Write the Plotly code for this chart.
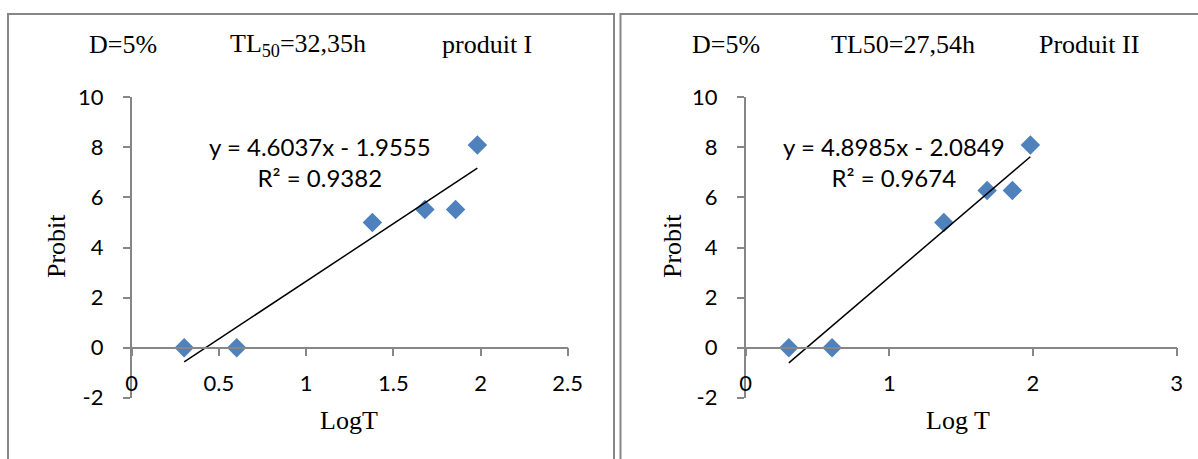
import plotly.graph_objects as go

# Probit analysis, D = 5 %, two products
log_t = [0.301, 0.602, 1.380, 1.681, 1.857, 1.982]
probit_p1 = [0.0, 0.0, 5.00, 5.52, 5.52, 8.09]
probit_p2 = [0.0, 0.0, 5.00, 6.28, 6.28, 8.09]

slope_p1, intercept_p1, r2_p1 = 4.6037, -1.9555, 0.9382
slope_p2, intercept_p2, r2_p2 = 4.8985, -2.0849, 0.9674

x_range_p1 = [0, 2.5]
x_range_p2 = [0, 3]
y_range = [-2, 10]
y_tickvals = [-2, 0, 2, 4, 6, 8, 10]
y_ticktext = ["-2", "0", "2", "4", "6", "8", "10"]

headers_p1 = ["D=5%", "TL<sub>50</sub>=32,35h", "produit I"]
headers_p2 = ["D=5%", "TL50=27,54h", "Produit II"]
xtitle_p1, xtitle_p2, ytitle = "LogT", "Log T", "Probit"

W, H = 1198, 459
BLUE = "#4F81BD"
GREY = "#868686"
SERIF = "Liberation Serif, Times New Roman, serif"
SANS = "Lato, Open Sans, sans-serif"


def px(x):
    return x / W


def py(y):
    return 1 - y / H


fig = go.Figure()

# plot-area pixel geometry (left, right, top, bottom)
areas = [(131.7, 567.7, 97.3, 397.7), (745.6, 1176.6, 97.3, 397.7)]
ydom = [py(areas[0][3]), py(areas[0][2])]


def zero_pos(area):
    top, bot = area[2], area[3]
    frac = (0 - y_range[0]) / (y_range[1] - y_range[0])
    return py(bot) + frac * (py(top) - py(bot))


panels = [
    (log_t, probit_p1, slope_p1, intercept_p1, x_range_p1, 0.5),
    (log_t, probit_p2, slope_p2, intercept_p2, x_range_p2, 1),
]

for i, (xs, ys, a, b, xr, dt) in enumerate(panels):
    n = "" if i == 0 else "2"
    fig.add_trace(go.Scatter(
        x=xs, y=ys, mode="markers", xaxis="x" + n, yaxis="y" + n,
        marker=dict(symbol="diamond", size=15, color=BLUE), showlegend=False,
        hoverinfo="skip"))
    x0, x1 = min(xs), max(xs)
    fig.add_trace(go.Scatter(
        x=[x0, x1], y=[a * x0 + b, a * x1 + b], mode="lines",
        xaxis="x" + n, yaxis="y" + n,
        line=dict(color="black", width=1.5), showlegend=False,
        hoverinfo="skip"))
    area = areas[i]
    common_ax = dict(showgrid=False, zeroline=False, showline=True,
                     automargin=False,
                     linecolor=GREY, linewidth=1.5, ticks="outside",
                     tickcolor=GREY, tickwidth=1.5,
                     tickfont=dict(family=SANS, size=22, color="black"))
    fig.layout["xaxis" + n] = dict(
        domain=[px(area[0]), px(area[1])], range=xr, dtick=dt,
        anchor="free", position=zero_pos(area), side="bottom",
        ticklen=8, ticklabelstandoff=8, **common_ax)
    fig.layout["yaxis" + n] = dict(
        domain=ydom, range=y_range, tickmode="array",
        tickvals=y_tickvals, ticktext=y_ticktext, anchor="x" + n,
        ticklen=7, ticklabelstandoff=15, **common_ax)

ann = []
# header lines
for txt, xc in zip(headers_p1, [123, 298, 487]):
    ann.append(dict(text=txt, x=px(xc), y=py(45)))
for txt, xc in zip(headers_p2, [726, 903, 1089]):
    ann.append(dict(text=txt, x=px(xc), y=py(45)))
# axis titles
ann.append(dict(text=xtitle_p1, x=px(349), y=py(420)))
ann.append(dict(text=xtitle_p2, x=px(958), y=py(420)))
ann.append(dict(text=ytitle, x=px(56), y=py(246), textangle=-90))
ann.append(dict(text=ytitle, x=px(672), y=py(246), textangle=-90))
for d in ann:
    d.update(xref="paper", yref="paper", showarrow=False,
             xanchor="center", yanchor="middle",
             font=dict(family=SERIF, size=26, color="black"))


def eq_text(a, b, r2):
    sign = "-" if b < 0 else "+"
    return f"y = {a:.4f}x {sign} {abs(b):.4f}<br>R² = {r2:.4f}"


for (a, b, r2), xc in [((slope_p1, intercept_p1, r2_p1), 320),
                       ((slope_p2, intercept_p2, r2_p2), 894)]:
    ann.append(dict(text=eq_text(a, b, r2), x=px(xc), y=py(162),
                    xref="paper", yref="paper", showarrow=False,
                    xanchor="center", yanchor="middle", align="center",
                    font=dict(family=SANS, size=24, color="black")))

# chart frames
shapes = [
    dict(type="rect", xref="paper", yref="paper", x0=px(8), x1=px(614),
         y0=-0.1, y1=py(14), line=dict(color=GREY, width=2)),
    dict(type="rect", xref="paper", yref="paper", x0=px(620.5), x1=1.1,
         y0=-0.1, y1=py(14), line=dict(color=GREY, width=2)),
]

fig.update_layout(width=W, height=H, margin=dict(l=0, r=0, t=0, b=0),
                  paper_bgcolor="white", plot_bgcolor="white",
                  annotations=ann, shapes=shapes)

fig.write_html("out.html")
